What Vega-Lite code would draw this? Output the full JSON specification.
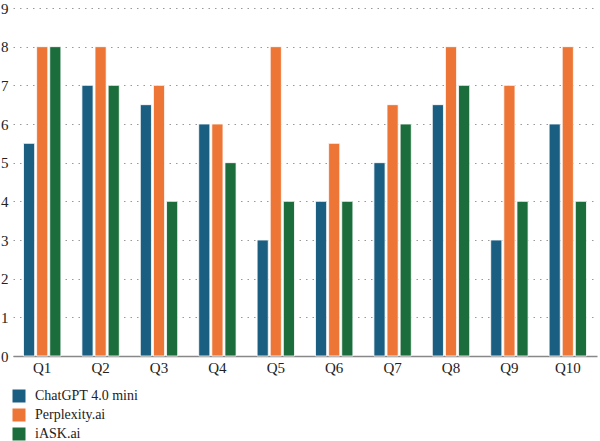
{
  "$schema": "https://vega.github.io/schema/vega-lite/v6.json",
  "width": 584,
  "height": 348,
  "autosize": "none",
  "padding": {"left": 13, "top": 8, "right": 3, "bottom": 85},
  "background": "white",
  "config": {
    "font": "Liberation Serif",
    "view": {"stroke": null}
  },
  "data": {
    "values": [
      {"q": "Q1", "s": "ChatGPT 4.0 mini", "v": 5.5},
      {"q": "Q1", "s": "Perplexity.ai", "v": 8},
      {"q": "Q1", "s": "iASK.ai", "v": 8},
      {"q": "Q2", "s": "ChatGPT 4.0 mini", "v": 7},
      {"q": "Q2", "s": "Perplexity.ai", "v": 8},
      {"q": "Q2", "s": "iASK.ai", "v": 7},
      {"q": "Q3", "s": "ChatGPT 4.0 mini", "v": 6.5},
      {"q": "Q3", "s": "Perplexity.ai", "v": 7},
      {"q": "Q3", "s": "iASK.ai", "v": 4},
      {"q": "Q4", "s": "ChatGPT 4.0 mini", "v": 6},
      {"q": "Q4", "s": "Perplexity.ai", "v": 6},
      {"q": "Q4", "s": "iASK.ai", "v": 5},
      {"q": "Q5", "s": "ChatGPT 4.0 mini", "v": 3},
      {"q": "Q5", "s": "Perplexity.ai", "v": 8},
      {"q": "Q5", "s": "iASK.ai", "v": 4},
      {"q": "Q6", "s": "ChatGPT 4.0 mini", "v": 4},
      {"q": "Q6", "s": "Perplexity.ai", "v": 5.5},
      {"q": "Q6", "s": "iASK.ai", "v": 4},
      {"q": "Q7", "s": "ChatGPT 4.0 mini", "v": 5},
      {"q": "Q7", "s": "Perplexity.ai", "v": 6.5},
      {"q": "Q7", "s": "iASK.ai", "v": 6},
      {"q": "Q8", "s": "ChatGPT 4.0 mini", "v": 6.5},
      {"q": "Q8", "s": "Perplexity.ai", "v": 8},
      {"q": "Q8", "s": "iASK.ai", "v": 7},
      {"q": "Q9", "s": "ChatGPT 4.0 mini", "v": 3},
      {"q": "Q9", "s": "Perplexity.ai", "v": 7},
      {"q": "Q9", "s": "iASK.ai", "v": 4},
      {"q": "Q10", "s": "ChatGPT 4.0 mini", "v": 6},
      {"q": "Q10", "s": "Perplexity.ai", "v": 8},
      {"q": "Q10", "s": "iASK.ai", "v": 4}
    ]
  },
  "mark": {"type": "bar", "stroke": "white", "strokeWidth": 0.8},
  "encoding": {
    "x": {
      "field": "q", "type": "nominal", "sort": null,
      "scale": {"paddingInner": 0.36, "paddingOuter": 0.18},
      "axis": {
        "title": null, "labelAngle": 0, "ticks": false,
        "domainColor": "#888888", "domainWidth": 1.5,
        "labelFontSize": 15, "labelColor": "#222222", "labelPadding": 4
      }
    },
    "xOffset": {"field": "s", "type": "nominal", "sort": ["ChatGPT 4.0 mini", "Perplexity.ai", "iASK.ai"], "scale": {"paddingInner": 0.15}},
    "y": {
      "field": "v", "type": "quantitative",
      "scale": {"domain": [0, 9], "nice": false},
      "axis": {
        "title": null, "values": [0,1,2,3,4,5,6,7,8,9],
        "labelOverlap": false, "labelFlush": false,
        "domain": false, "ticks": false,
        "labelFontSize": 15, "labelColor": "#222222", "labelPadding": 5,
        "gridColor": "#999999", "gridDash": [1.5, 5], "gridWidth": 1
      }
    },
    "color": {
      "field": "s", "type": "nominal",
      "sort": ["ChatGPT 4.0 mini", "Perplexity.ai", "iASK.ai"],
      "scale": {"range": ["#1a5e82", "#ed7535", "#1b6d3b"]},
      "legend": {
        "title": null, "orient": "none", "legendX": -1, "legendY": 381,
        "direction": "vertical", "symbolType": "square", "symbolSize": 169,
        "symbolStrokeWidth": 0, "labelFontSize": 14, "labelColor": "#222222",
        "rowPadding": 5, "labelOffset": 9
      }
    }
  }
}
